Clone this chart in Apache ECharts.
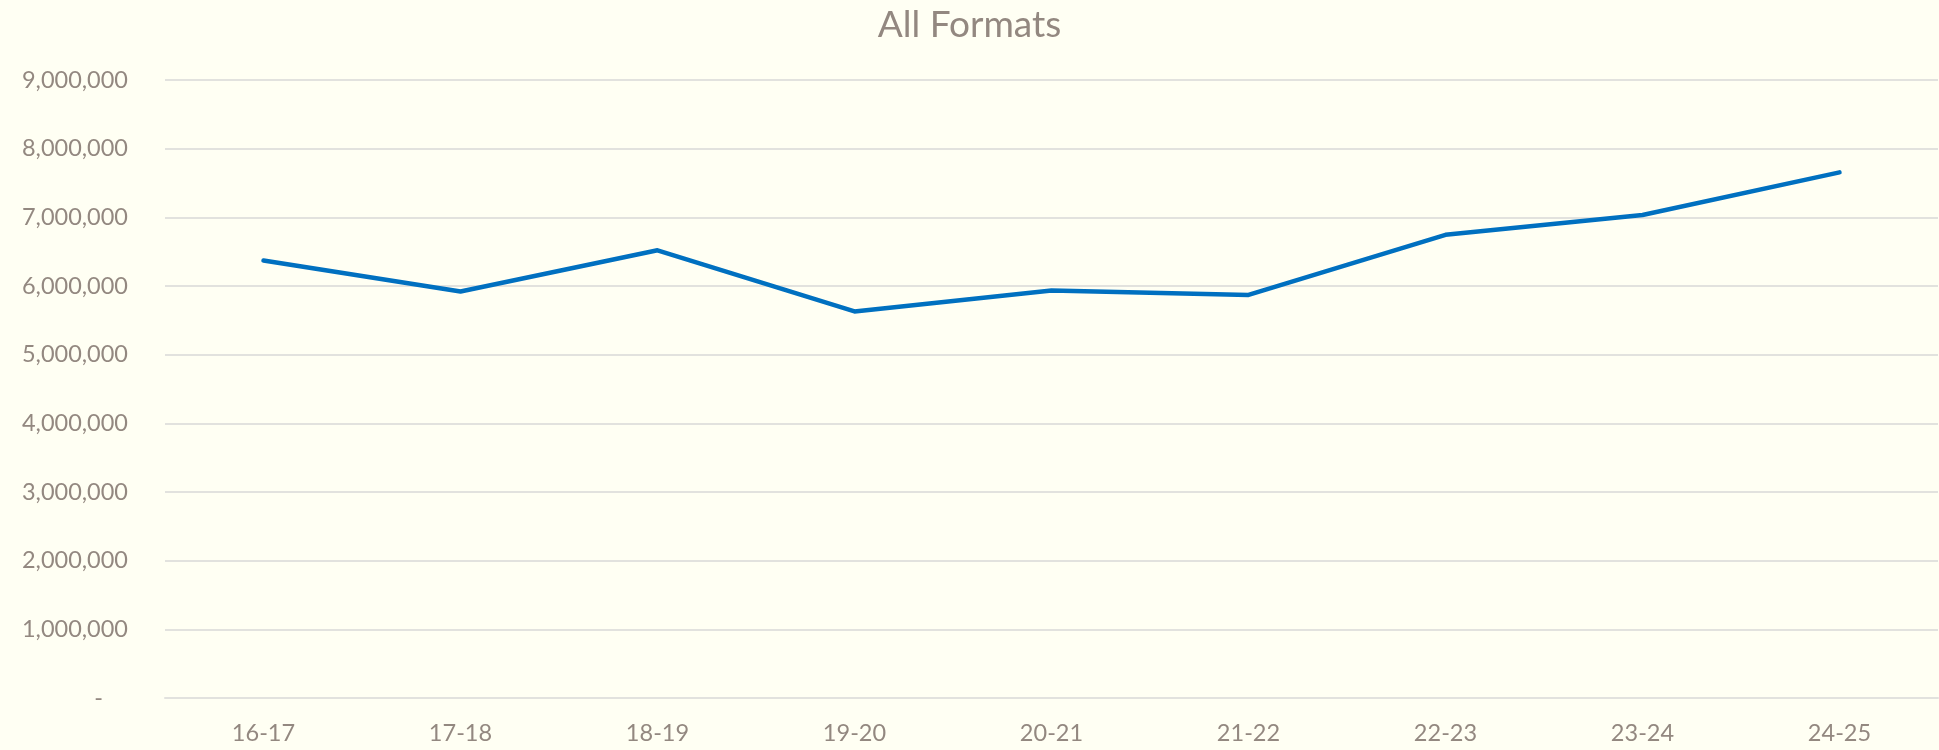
<!DOCTYPE html>
<html>
<head>
<meta charset="utf-8">
<script src="https://cdn.jsdelivr.net/npm/echarts@6/dist/echarts.min.js"></script>
<style>
    html, body {margin: 0; padding: 0; background: #FFFFF3;}
    #main {width: 1939px; height: 750px;}
</style>
</head>
<body>
<div id="main"></div>
<script>
    //数据
    var seasons = ['16-17', '17-18', '18-19', '19-20', '20-21', '21-22', '22-23', '23-24', '24-25'];
    var allFormats = [6370000, 5920000, 6520000, 5630000, 5935000, 5870000, 6745000, 7035000, 7655000];
    var yTicks = [0, 1000000, 2000000, 3000000, 4000000, 5000000, 6000000, 7000000, 8000000, 9000000];

    var textColor = '#938880';
    var font = 'Lato, "Open Sans", sans-serif';

    var chart = echarts.init(document.getElementById('main'));
    var option = {
        backgroundColor: '#FFFFF3',
        animation: false,
        title: {
            text: 'All Formats',
            left: 'center',
            top: 2,
            textStyle: {color: textColor, fontFamily: font, fontWeight: 'normal', fontSize: 37}
        },
        grid: {
            left: 165,
            right: 1,
            top: 80,
            bottom: 52
        },
        xAxis: {
            type: 'category',
            data: seasons,
            boundaryGap: true,
            axisLine: {show: true, lineStyle: {color: '#E2E2DE', width: 2}},
            axisTick: {show: false},
            axisLabel: {color: textColor, fontFamily: font, fontSize: 23.5, margin: 23}
        },
        yAxis: {
            type: 'value',
            min: yTicks[0],
            max: yTicks[yTicks.length - 1],
            interval: 1000000,
            axisLine: {show: false},
            axisTick: {show: false},
            splitLine: {lineStyle: {color: '#E2E2DE', width: 2}},
            axisLabel: {
                color: textColor, fontFamily: font, fontSize: 23.5, margin: 37,
                formatter: function (v) {
                    if (v === 0) return '{z|-}';
                    return v.toLocaleString('en-US');
                },
                rich: {
                    z: {color: textColor, fontFamily: font, fontSize: 23.5, padding: [0, 25, 0, 0]}
                }
            }
        },
        series: [
            {
                name: 'All Formats',
                type: 'line',
                data: allFormats,
                symbol: 'none',
                lineStyle: {color: '#0070C0', width: 4.5, cap: 'round', join: 'round'}
            }
        ]
    };
    chart.setOption(option);
</script>
</body>
</html>
